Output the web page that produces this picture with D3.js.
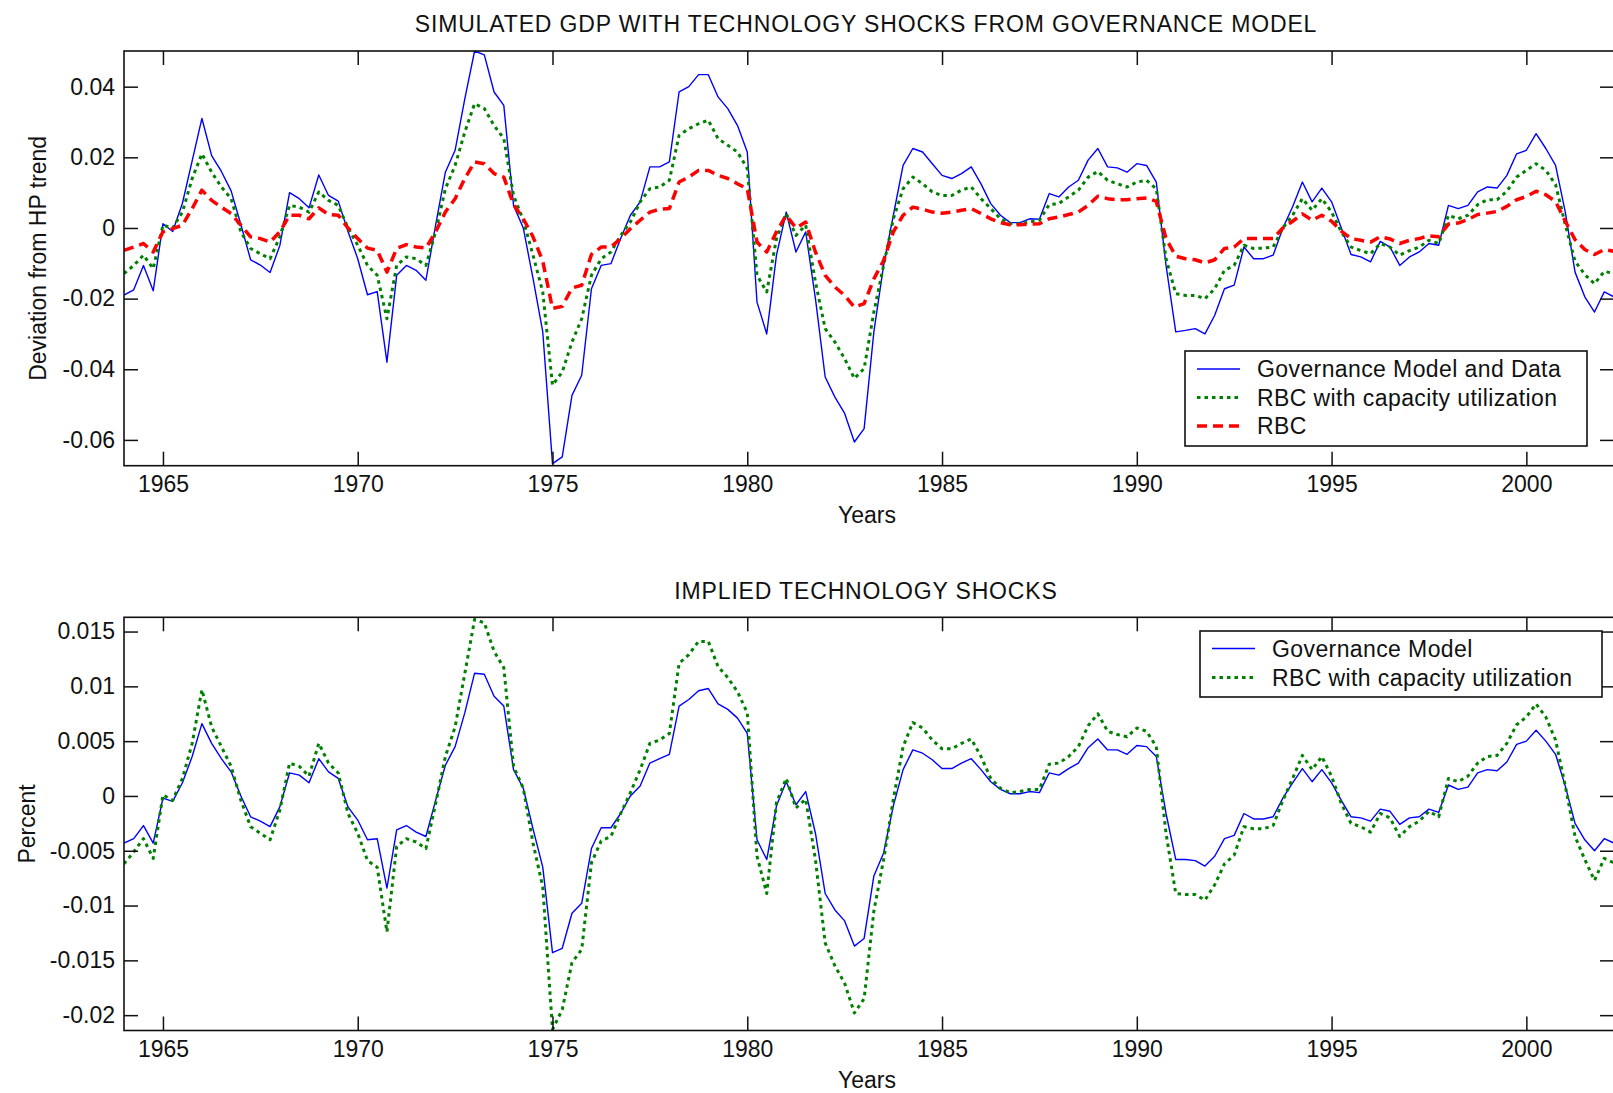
<!DOCTYPE html>
<html>
<head>
<meta charset="utf-8">
<script src="https://cdn.jsdelivr.net/npm/d3@7"></script>
<style>
  body { margin: 0; background: #fff; }
  svg { display: block; }
  text { font-family: "Liberation Sans", Arial, sans-serif; fill: #111; }
</style>
</head>
<body>
<div id="holder"></div>
<script>
// quarterly observations, 1964Q1 .. 2002Q2
const firstYear = 1964;
const quarters = d3.range(154).map(i => firstYear + i / 4);

const xTicks = [1965, 1970, 1975, 1980, 1985, 1990, 1995, 2000];
const topYTicks = [-0.06, -0.04, -0.02, 0, 0.02, 0.04];
const topYLabels = ["-0.06", "-0.04", "-0.02", "0", "0.02", "0.04"];
const bottomYTicks = [-0.02, -0.015, -0.01, -0.005, 0, 0.005, 0.01, 0.015];
const bottomYLabels = ["-0.02", "-0.015", "-0.01", "-0.005", "0", "0.005", "0.01", "0.015"];

// top panel: simulated GDP, deviation from HP trend
const gdpGovernance = [
  -0.019, -0.0175, -0.0106, -0.0178,
  0.0012, -0.001, 0.007, 0.019,
  0.031, 0.0205, 0.016, 0.0105,
  0.001, -0.009, -0.0105, -0.0126,
  -0.005, 0.01, 0.0083, 0.0057,
  0.015, 0.0092, 0.0076, -0.001,
  -0.0087, -0.0189, -0.018, -0.038,
  -0.0134, -0.0106, -0.012, -0.0148,
  0.0008, 0.0158, 0.022, 0.0366,
  0.0501, 0.049, 0.0385, 0.0347,
  0.0064, 0.0, -0.0143, -0.0294,
  -0.0667, -0.0648, -0.0474, -0.0417,
  -0.0172, -0.0106, -0.0101, -0.003,
  0.0036, 0.0074, 0.0173, 0.0173,
  0.0187, 0.0385, 0.04, 0.0434,
  0.0434, 0.0371, 0.0338, 0.029,
  0.0215, -0.021, -0.03, -0.0077,
  0.0045, -0.0068, -0.0011, -0.02,
  -0.0422, -0.0479, -0.0525, -0.0606,
  -0.0568, -0.0294, -0.0106, 0.0036,
  0.0177, 0.0225, 0.0215, 0.0182,
  0.0149, 0.014, 0.0154, 0.0173,
  0.0125, 0.0069, 0.0036, 0.0015,
  0.0015, 0.0026, 0.0025, 0.0097,
  0.0088, 0.0116, 0.0135, 0.0192,
  0.0225, 0.0173, 0.017, 0.0158,
  0.0182, 0.0177, 0.013, -0.0106,
  -0.0294, -0.029, -0.0285, -0.03,
  -0.0247, -0.0172, -0.0162, -0.0054,
  -0.0087, -0.0087, -0.0077, 0.0,
  0.006, 0.013, 0.0074, 0.0113,
  0.0074, 0.0, -0.0075, -0.0082,
  -0.0096, -0.0038, -0.0054, -0.0106,
  -0.0082, -0.0068, -0.0044, -0.0049,
  0.0064, 0.0055, 0.0064, 0.0102,
  0.0116, 0.0113, 0.0149, 0.021,
  0.022, 0.0267, 0.0225, 0.0177,
  0.0045, -0.0125, -0.0195, -0.0238,
  -0.0181, -0.0195
];
const gdpRbcCapacity = [
  -0.0129, -0.0106, -0.0077, -0.0115,
  0.0008, 0.0, 0.0045, 0.014,
  0.021, 0.0158, 0.0116, 0.0083,
  -0.0011, -0.0058, -0.0073, -0.0087,
  -0.0025, 0.0064, 0.0059, 0.0045,
  0.0102, 0.0078, 0.0064, 0.0,
  -0.0049, -0.0106, -0.0134, -0.0257,
  -0.0106, -0.0082, -0.0087, -0.0106,
  -0.0011, 0.0111, 0.0177, 0.0272,
  0.0352, 0.0338, 0.029, 0.0253,
  0.0092, 0.0022, -0.0077, -0.0181,
  -0.0445, -0.0408, -0.0323, -0.0257,
  -0.0134, -0.0087, -0.0068, -0.0021,
  0.0017, 0.0074, 0.0111, 0.0116,
  0.0135, 0.0262, 0.0281, 0.0295,
  0.0305, 0.0253, 0.0234, 0.0215,
  0.0168, -0.0134, -0.0181, -0.003,
  0.0041, -0.0021, 0.0008, -0.0153,
  -0.0285, -0.0323, -0.037, -0.0426,
  -0.0398, -0.0238, -0.0106, 0.0026,
  0.0111, 0.0144, 0.0125, 0.0102,
  0.0092, 0.0092, 0.0107, 0.0116,
  0.0083, 0.0055, 0.0026, 0.0012,
  0.0012, 0.0017, 0.0022, 0.0066,
  0.0069, 0.0088, 0.0107, 0.0144,
  0.016, 0.0135, 0.0125, 0.0116,
  0.013, 0.0135, 0.0111, -0.0087,
  -0.0186, -0.0191, -0.0191, -0.02,
  -0.0172, -0.012, -0.0106, -0.0049,
  -0.0058, -0.0057, -0.0054, 0.0,
  0.0036, 0.0083, 0.005, 0.0083,
  0.0045, -0.0011, -0.0054, -0.0064,
  -0.0073, -0.0044, -0.0054, -0.0077,
  -0.0064, -0.0054, -0.0035, -0.0044,
  0.0036, 0.0026, 0.0036, 0.0066,
  0.008, 0.008, 0.0104, 0.0144,
  0.0163, 0.0182, 0.0163, 0.0123,
  0.0009, -0.0094, -0.0132, -0.0158,
  -0.0123, -0.0129
];
const gdpRbc = [
  -0.0063, -0.0054, -0.0044, -0.0068,
  -0.0011, -0.0002, 0.0008, 0.0055,
  0.0107, 0.0078, 0.0059, 0.0041,
  0.0008, -0.0025, -0.003, -0.004,
  -0.0011, 0.0036, 0.0036, 0.0026,
  0.0057, 0.0038, 0.0036, 0.0,
  -0.003, -0.0057, -0.0063, -0.0125,
  -0.0058, -0.0047, -0.0054, -0.0057,
  -0.0011, 0.0045, 0.0083, 0.014,
  0.0187, 0.0182, 0.0154, 0.0144,
  0.0066, 0.0026, -0.0025, -0.0094,
  -0.0228, -0.0222, -0.017, -0.0162,
  -0.0075, -0.0054, -0.0054, -0.003,
  -0.0002, 0.0022, 0.0045, 0.0053,
  0.0055, 0.013, 0.0144, 0.0163,
  0.0163, 0.0149, 0.014, 0.0125,
  0.0111, -0.004, -0.0068, -0.0011,
  0.0036, 0.0, 0.0017, -0.0068,
  -0.0134, -0.0167, -0.0191, -0.0224,
  -0.0214, -0.0144, -0.0092, -0.0011,
  0.0036, 0.0059, 0.0053, 0.0045,
  0.0042, 0.0045, 0.005, 0.0055,
  0.0041, 0.0026, 0.0015, 0.0009,
  0.0009, 0.0011, 0.0012, 0.0026,
  0.0031, 0.0038, 0.0045, 0.0064,
  0.009, 0.0083, 0.008, 0.008,
  0.0083, 0.0085, 0.0075, -0.003,
  -0.008, -0.0087, -0.009, -0.0099,
  -0.009, -0.0058, -0.0054, -0.003,
  -0.003, -0.003, -0.003, 0.0,
  0.0019, 0.004, 0.0022, 0.0036,
  0.0019, -0.0009, -0.003, -0.0035,
  -0.004, -0.0025, -0.0031, -0.0044,
  -0.0035, -0.003, -0.0022, -0.0025,
  0.0011, 0.0014, 0.0024, 0.0038,
  0.0042, 0.0047, 0.0061, 0.008,
  0.0089, 0.0104, 0.0094, 0.0075,
  0.0019, -0.0033, -0.0061, -0.0075,
  -0.0061, -0.0066
];

// bottom panel: implied technology shocks
const shockGovernance = [
  -0.0043, -0.0039, -0.0027, -0.0043,
  -0.0002, -0.0005, 0.0012, 0.0036,
  0.0066, 0.0048, 0.0034, 0.0022,
  0.0, -0.0019, -0.0023, -0.0028,
  -0.001, 0.0021, 0.0019, 0.0012,
  0.0034, 0.0022, 0.0016, -0.001,
  -0.0022, -0.004, -0.0039, -0.0084,
  -0.0031, -0.0027, -0.0033, -0.0037,
  -0.0004, 0.0028, 0.0045, 0.0076,
  0.0112, 0.0111, 0.0091, 0.0082,
  0.0024, 0.0007, -0.003, -0.0065,
  -0.0143, -0.0139, -0.0107, -0.0098,
  -0.0048, -0.0029, -0.0029, -0.0016,
  0.0, 0.0009, 0.003, 0.0034,
  0.0038, 0.0082, 0.0088, 0.0096,
  0.0098, 0.0084, 0.0079, 0.0071,
  0.0057, -0.004, -0.0058, -0.0009,
  0.0013, -0.0008, 0.0004, -0.0034,
  -0.0089, -0.0104, -0.0114, -0.0137,
  -0.013, -0.0073, -0.0052, -0.0009,
  0.0024, 0.0042, 0.0039, 0.0033,
  0.0025, 0.0025, 0.003, 0.0034,
  0.0024, 0.0013, 0.0006, 0.0002,
  0.0002, 0.0004, 0.0003, 0.0021,
  0.0019, 0.0025, 0.003, 0.0044,
  0.0052, 0.0042, 0.0042, 0.0038,
  0.0046, 0.0045, 0.0036, -0.0016,
  -0.0058, -0.0058, -0.0059, -0.0064,
  -0.0055, -0.0039, -0.0036, -0.0016,
  -0.0021, -0.0021, -0.0019, -0.0002,
  0.0012, 0.0025, 0.0013, 0.0024,
  0.0012, -0.0004, -0.0019, -0.002,
  -0.0023, -0.0012, -0.0014, -0.0026,
  -0.002, -0.0019, -0.0012, -0.0015,
  0.001, 0.0006, 0.0008, 0.0021,
  0.0024, 0.0023, 0.0031, 0.0047,
  0.005, 0.006, 0.005, 0.0038,
  0.0009, -0.0025, -0.004, -0.005,
  -0.0039, -0.0043
];
const shockRbcCapacity = [
  -0.0062, -0.0051, -0.0039, -0.0057,
  0.0001, -0.0004, 0.0016, 0.0048,
  0.0097, 0.0063, 0.0045, 0.0027,
  -0.0004, -0.0028, -0.0034, -0.004,
  -0.0013, 0.003, 0.0027, 0.0018,
  0.0048, 0.003, 0.0021, -0.0016,
  -0.0034, -0.0059, -0.0065, -0.0124,
  -0.0046, -0.0039, -0.0042, -0.0048,
  -0.0007, 0.0036, 0.0063, 0.0112,
  0.0161, 0.0158, 0.0132, 0.0117,
  0.0027, 0.0007, -0.0043, -0.0083,
  -0.0213, -0.0195, -0.0152, -0.014,
  -0.0061, -0.0041, -0.0037, -0.0016,
  0.0003, 0.0024, 0.0048, 0.0051,
  0.0057, 0.0121, 0.0129, 0.0141,
  0.0141, 0.0118, 0.0108, 0.0095,
  0.0076, -0.0055, -0.0089, -0.0006,
  0.0016, -0.0011, -0.0003, -0.0058,
  -0.0134, -0.0155, -0.0171, -0.0198,
  -0.0185, -0.0105, -0.0058, -0.0003,
  0.0045, 0.0067, 0.0062, 0.0051,
  0.0043, 0.0043, 0.0048, 0.0052,
  0.0036, 0.0016, 0.0007, 0.0003,
  0.0004, 0.0006, 0.0006, 0.0029,
  0.003, 0.0036, 0.0045, 0.0064,
  0.0075, 0.0059, 0.0056, 0.0054,
  0.0062, 0.0059, 0.0045, -0.0034,
  -0.0089, -0.009, -0.009, -0.0095,
  -0.0081, -0.0062, -0.0054, -0.0028,
  -0.003, -0.003, -0.0027, -0.0004,
  0.0016, 0.0037, 0.0024, 0.0036,
  0.0018, -0.0007, -0.0025, -0.0028,
  -0.0033, -0.0016, -0.002, -0.0037,
  -0.0028, -0.0023, -0.0014, -0.0019,
  0.0016, 0.0013, 0.0018, 0.003,
  0.0036, 0.0037, 0.0048, 0.0065,
  0.0072, 0.0084, 0.0072, 0.0051,
  0.0009, -0.0037, -0.0058, -0.0077,
  -0.0057, -0.0061
];

const width = 1613;
const height = 1093;
const left = 124;
const right = 1614;
const tick = 14;
const fontSize = 23;

const blueStyle = { color: "#0000ff", width: 1.4, dash: null };
const greenStyle = { color: "#008000", width: 3, dash: "3.5,4" };
const redStyle = { color: "#ff0000", width: 3.5, dash: "10,6" };

const svg = d3.select("#holder")
  .append("svg")
  .attr("width", width)
  .attr("height", height)
  .style("font-size", fontSize + "px");

svg.append("rect").attr("width", width).attr("height", height).attr("fill", "#fff");

const xScale = d3.scaleLinear()
  .domain([firstYear, quarters[quarters.length - 1]])
  .range([left, right]);

function drawPanel(opt) {
  const yScale = d3.scaleLinear().domain(opt.domain).range([opt.bottom, opt.top]);
  const id = "clip" + opt.name;

  svg.append("clipPath").attr("id", id)
    .append("rect")
    .attr("x", left).attr("y", opt.top)
    .attr("width", right - left).attr("height", opt.bottom - opt.top);

  const line = d3.line()
    .x((d, i) => xScale(quarters[i]))
    .y(d => yScale(d));

  const lines = svg.append("g").attr("clip-path", `url(#${id})`);
  opt.series.forEach(s => {
    lines.append("path")
      .datum(s.values)
      .attr("d", line)
      .attr("fill", "none")
      .attr("stroke", s.style.color)
      .attr("stroke-width", s.style.width)
      .attr("stroke-dasharray", s.style.dash)
      .attr("stroke-linejoin", "round");
  });

  // axes: ticks point inward on all four sides
  const xAxis = d3.axisBottom(xScale).tickValues(xTicks).tickFormat(d3.format("d"))
    .tickSizeInner(-tick).tickSizeOuter(0).tickPadding(10);
  const gx = svg.append("g").attr("transform", `translate(0, ${opt.bottom})`).call(xAxis);

  const xTop = d3.axisTop(xScale).tickValues(xTicks).tickFormat("")
    .tickSizeInner(-tick).tickSizeOuter(0);
  const gxt = svg.append("g").attr("transform", `translate(0, ${opt.top})`).call(xTop);

  const yAxis = d3.axisLeft(yScale).tickValues(opt.ticks)
    .tickFormat((d, i) => opt.labels[i])
    .tickSizeInner(-tick).tickSizeOuter(0).tickPadding(9);
  const gy = svg.append("g").attr("transform", `translate(${left}, 0)`).call(yAxis);

  const yRight = d3.axisRight(yScale).tickValues(opt.ticks).tickFormat("")
    .tickSizeInner(-tick).tickSizeOuter(0);
  const gyr = svg.append("g").attr("transform", `translate(${right}, 0)`).call(yRight);

  [gx, gxt, gy, gyr].forEach(g => {
    g.select(".domain").remove();
    g.selectAll("line").attr("stroke", "#111").attr("stroke-width", 1.5);
    g.selectAll("text").attr("font-size", fontSize).attr("fill", "#111")
      .attr("font-family", "Liberation Sans, Arial, sans-serif");
  });

  svg.append("rect")
    .attr("x", left).attr("y", opt.top)
    .attr("width", right - left).attr("height", opt.bottom - opt.top)
    .attr("fill", "none").attr("stroke", "#111").attr("stroke-width", 1.6);

  svg.append("text")
    .attr("x", 866).attr("y", opt.titleY)
    .attr("text-anchor", "middle")
    .style("letter-spacing", "0.85px")
    .text(opt.title);

  svg.append("text")
    .attr("x", 867).attr("y", opt.bottom + 57)
    .attr("text-anchor", "middle")
    .text("Years");

  svg.append("text")
    .attr("transform", `translate(${opt.ylabelX}, ${(opt.top + opt.bottom) / 2}) rotate(-90)`)
    .attr("text-anchor", "middle")
    .text(opt.ylabel);

  // legend
  const lg = opt.legend;
  svg.append("rect")
    .attr("x", lg.x).attr("y", lg.y)
    .attr("width", lg.w).attr("height", lg.h)
    .attr("fill", "#fff").attr("stroke", "#111").attr("stroke-width", 1.6);

  opt.series.forEach((s, i) => {
    const yy = lg.y + lg.first + i * lg.step;
    svg.append("line")
      .attr("x1", lg.x + 12).attr("x2", lg.x + 55)
      .attr("y1", yy).attr("y2", yy)
      .attr("stroke", s.style.color)
      .attr("stroke-width", s.style.width)
      .attr("stroke-dasharray", s.style.dash);
    svg.append("text")
      .attr("x", lg.x + 72).attr("y", yy)
      .attr("dy", "0.36em")
      .style("letter-spacing", "0.4px")
      .text(s.label);
  });
}

drawPanel({
  name: "top",
  top: 51,
  bottom: 465.7,
  domain: [-0.0673, 0.0501],
  ticks: topYTicks,
  labels: topYLabels,
  title: "SIMULATED GDP WITH TECHNOLOGY SHOCKS FROM GOVERNANCE MODEL",
  titleY: 32,
  ylabel: "Deviation from HP trend",
  ylabelX: 46,
  series: [
    { label: "Governance Model and Data", values: gdpGovernance, style: blueStyle },
    { label: "RBC with capacity utilization", values: gdpRbcCapacity, style: greenStyle },
    { label: "RBC", values: gdpRbc, style: redStyle }
  ],
  legend: { x: 1185, y: 351, w: 402, h: 95, first: 18, step: 28.5 }
});

drawPanel({
  name: "bottom",
  top: 617.3,
  bottom: 1030.5,
  domain: [-0.0214, 0.0163],
  ticks: bottomYTicks,
  labels: bottomYLabels,
  title: "IMPLIED TECHNOLOGY SHOCKS",
  titleY: 599,
  ylabel: "Percent",
  ylabelX: 35,
  series: [
    { label: "Governance Model", values: shockGovernance, style: blueStyle },
    { label: "RBC with capacity utilization", values: shockRbcCapacity, style: greenStyle }
  ],
  legend: { x: 1200, y: 631, w: 402, h: 66, first: 17.5, step: 29 }
});
</script>
</body>
</html>
